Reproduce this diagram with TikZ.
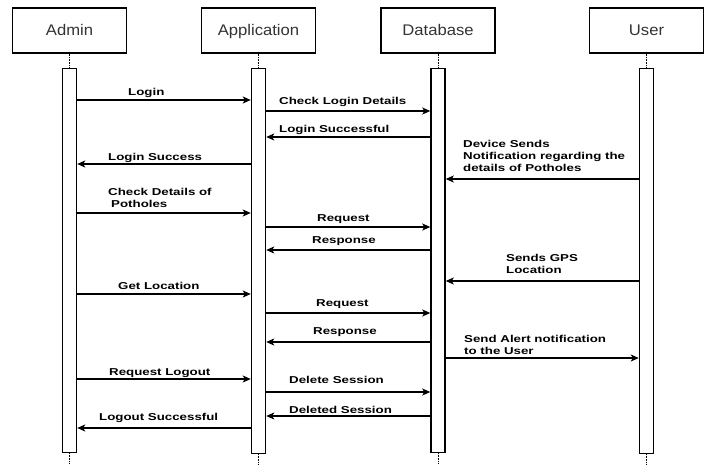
\documentclass[tikz,border=0pt]{standalone}
\usepackage{fontspec}
\setmainfont{Liberation Sans}
\newfontfamily\headfont[FakeStretch=1.08]{Liberation Sans}
\newfontfamily\msgfont[FakeStretch=1.33]{Liberation Sans}
\usetikzlibrary{arrows.meta}

\begin{document}
\begin{tikzpicture}[x=1pt,y=-1pt,
    head/.style={draw,line width=1.5pt,minimum width=114pt,minimum height=45pt,
      text height=11pt,text depth=0.5pt,
      text=black!80,font=\headfont\fontsize{15.4}{18}\selectfont},
    bar/.style={draw,line width=1.5pt,fill=white,minimum width=14pt,inner sep=0pt},
    life/.style={densely dotted,line width=0.6pt},
    msg/.style={line width=1.1pt,-{Stealth[length=8pt,width=7pt,inset=2pt]}},
    lbl/.style={anchor=base west,inner sep=0pt,align=left,
      font=\msgfont\bfseries\fontsize{10}{12}\selectfont}]
  \useasboundingbox (0,0) rectangle (706,464);
  \foreach \n/\t/\x/\h in {admin/Admin/69.5/384, app/Application/258.5/385,
                          db/Database/438/384, user/User/646.5/385} {
    \node[head] (\n) at (\x,30.5) {\t};
    \node[bar,minimum height=\h pt,anchor=north] (\n bar) at (\x,67.5) {};
    \coordinate (\n end) at (\x,464);
    \draw[life] (\n) -- (\n bar);
    \draw[life] (\n bar) -- (\n end);
  }

  \draw[msg] (adminbar.east |- 0,100) -- (appbar.west |- 0,100);
  \node[lbl] (login) at (128,95) {Login};
  \draw[msg] (appbar.east |- 0,111) -- (dbbar.west |- 0,111);
  \node[lbl] (checklogin) at (279,104) {Check Login Details};
  \draw[msg] (dbbar.west |- 0,137) -- (appbar.east |- 0,137);
  \node[lbl] (loginok) at (279,132) {Login Successful};
  \draw[msg] (appbar.west |- 0,164) -- (adminbar.east |- 0,164);
  \node[lbl] (loginsuccess) at (108,160) {Login Success};
  \draw[msg] (userbar.west |- 0,179) -- (dbbar.east |- 0,179);
  \node[lbl,anchor=north west] (device) at (463,140) {Device Sends\\Notification regarding the\\details of Potholes};
  \draw[msg] (adminbar.east |- 0,213) -- (appbar.west |- 0,213);
  \node[lbl,anchor=north west] (checkdetails) at (108,188) {Check Details of\\\hspace*{3pt}Potholes};
  \draw[msg] (appbar.east |- 0,227) -- (dbbar.west |- 0,227);
  \node[lbl] (request1) at (317,221) {Request};
  \draw[msg] (dbbar.west |- 0,250) -- (appbar.east |- 0,250);
  \node[lbl] (response1) at (312,243) {Response};
  \draw[msg] (userbar.west |- 0,281) -- (dbbar.east |- 0,281);
  \node[lbl,anchor=north west] (gps) at (506,254) {Sends GPS\\Location};
  \draw[msg] (adminbar.east |- 0,294) -- (appbar.west |- 0,294);
  \node[lbl] (getlocation) at (118,289) {Get Location};
  \draw[msg] (appbar.east |- 0,313) -- (dbbar.west |- 0,313);
  \node[lbl] (request2) at (316,306) {Request};
  \draw[msg] (dbbar.west |- 0,342) -- (appbar.east |- 0,342);
  \node[lbl] (response2) at (313,334) {Response};
  \draw[msg] (dbbar.east |- 0,358) -- (userbar.west |- 0,358);
  \node[lbl,anchor=north west] (alert) at (464,335) {Send Alert notification\\to the User};
  \draw[msg] (adminbar.east |- 0,379) -- (appbar.west |- 0,379);
  \node[lbl] (reqlogout) at (109,375) {Request Logout};
  \draw[msg] (appbar.east |- 0,392) -- (dbbar.west |- 0,392);
  \node[lbl] (delete) at (289,383) {Delete Session};
  \draw[msg] (dbbar.west |- 0,416) -- (appbar.east |- 0,416);
  \node[lbl] (deleted) at (289,413) {Deleted Session};
  \draw[msg] (appbar.west |- 0,428) -- (adminbar.east |- 0,428);
  \node[lbl] (logoutok) at (99,420) {Logout Successful};
\end{tikzpicture}
\end{document}
